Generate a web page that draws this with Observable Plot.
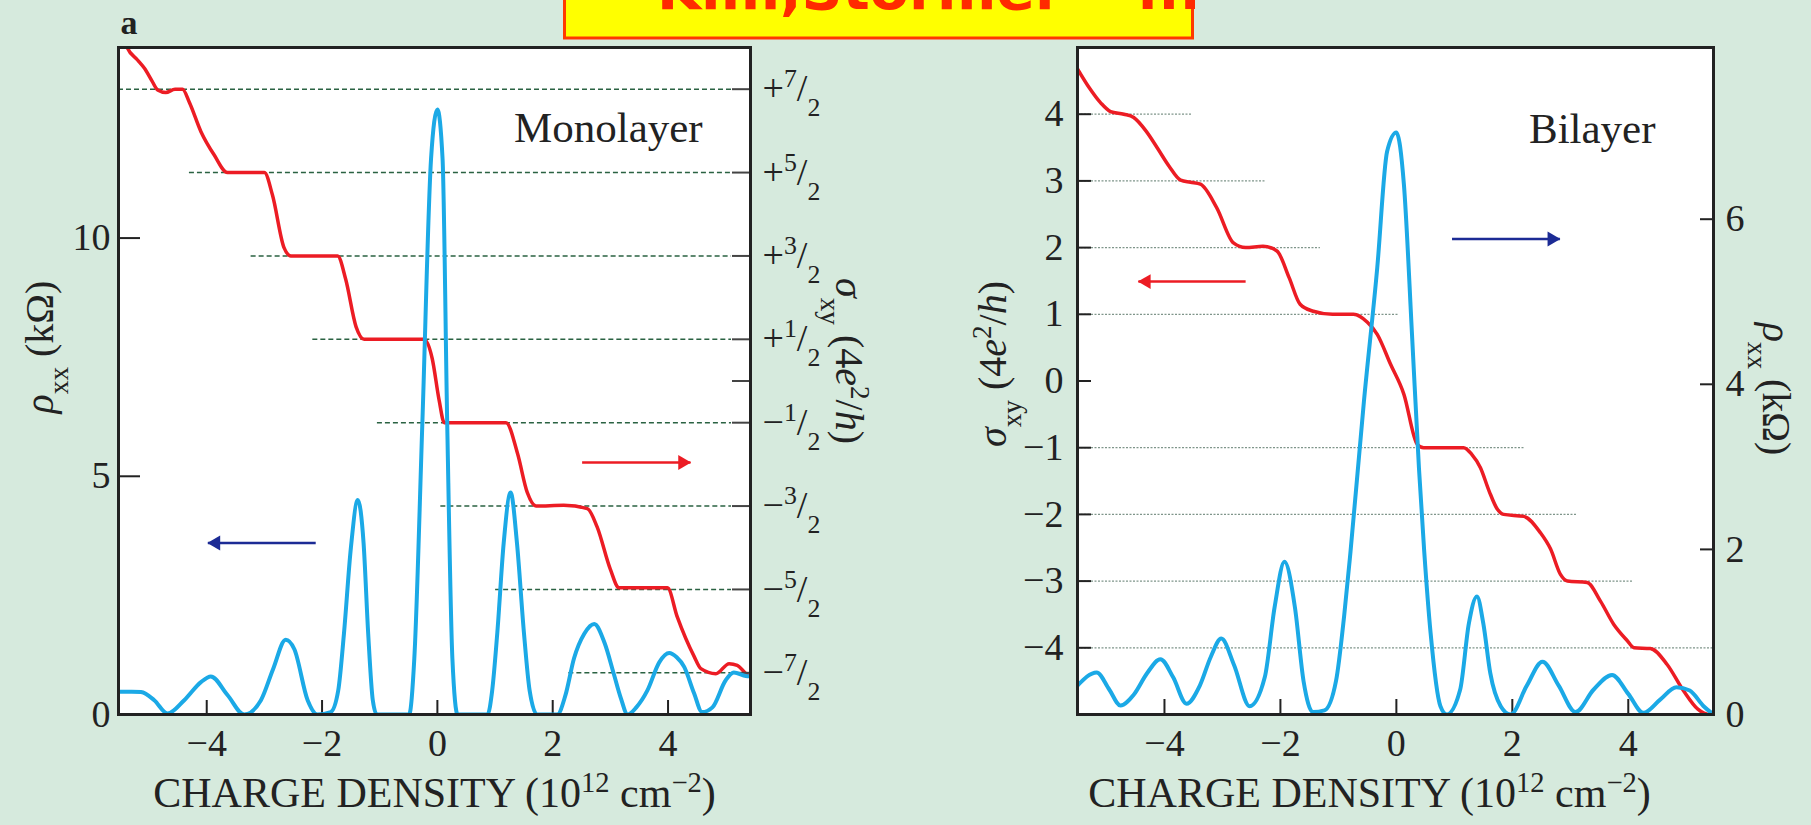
<!DOCTYPE html>
<html><head><meta charset="utf-8">
<script src="https://cdn.jsdelivr.net/npm/d3@7"></script>
<script src="https://cdn.jsdelivr.net/npm/@observablehq/plot@0.6"></script>
<style>
html,body{margin:0;padding:0;background:#d6eadd;}
#root{position:relative;width:1811px;height:825px;overflow:hidden;background:#d6eadd;}
#root .layer{position:absolute;top:0;}
#root svg{display:block;max-width:none;}
</style></head><body><div id="root"></div>
<script>
// ---------- DATA ----------
const xTicks = [-4, -2, 0, 2, 4];
const monoXDomain = [-5.53, 5.43];
const monoRhoDomain = [0, 14];
const monoSigmaDomain = [-4, 4];
const monoRhoTicks = [0, 5, 10];
const monoSigmaTicks = [-3.5, -2.5, -1.5, -0.5, 0, 0.5, 1.5, 2.5, 3.5];
const monoSigmaLabels = [-3.5, -2.5, -1.5, -0.5, 0.5, 1.5, 2.5, 3.5];

const biXDomain = [-5.5, 5.47];
const biSigmaDomain = [-5, 5];
const biRhoDomain = [0, 8.08];
const biSigmaTicks = [-4, -3, -2, -1, 0, 1, 2, 3, 4];
const biRhoTicks = [0, 2, 4, 6];

// monolayer rho_xx (kOhm) vs density
const monoRhoxx = [[-5.53,0.48],[-5.3,0.48],[-5.14,0.47],[-4.91,0.3],[-4.68,0.02],[-4.39,0.3],[-4.1,0.68],[-3.93,0.8],[-3.64,0.41],[-3.35,0.0],[-3.06,0.3],[-2.85,0.95],[-2.63,1.57],[-2.48,1.37],[-2.25,0.3],[-2.08,0.0],[-1.85,0.05],[-1.72,0.5],[-1.62,1.7],[-1.5,3.5],[-1.38,4.5],[-1.28,3.6],[-1.2,1.7],[-1.12,0.3],[-1.05,0.0],[-0.49,0.0],[-0.4,1.18],[-0.26,6.14],[-0.11,11.66],[0,12.7],[0.09,11.66],[0.17,6.14],[0.26,1.18],[0.35,0.0],[0.87,0.0],[0.95,0.5],[1.04,1.73],[1.15,3.6],[1.27,4.66],[1.38,3.6],[1.5,1.73],[1.6,0.5],[1.73,0.0],[2.08,0.0],[2.22,0.4],[2.37,1.18],[2.55,1.7],[2.72,1.9],[2.9,1.5],[3.06,0.85],[3.18,0.35],[3.3,0.0],[3.45,0.15],[3.64,0.5],[3.85,1.1],[4.02,1.29],[4.15,1.2],[4.28,1.0],[4.45,0.45],[4.59,0.05],[4.77,0.15],[5.0,0.72],[5.14,0.88],[5.35,0.81],[5.43,0.8]];
// monolayer sigma_xy (4e^2/h)
const monoSigmaxy = [[-5.5,4.25],[-5.38,4.0],[-5.2,3.85],[-5.08,3.75],[-4.95,3.6],[-4.85,3.49],[-4.71,3.46],[-4.55,3.5],[-4.42,3.5],[-4.3,3.34],[-4.1,2.99],[-3.87,2.71],[-3.64,2.5],[-3.0,2.5],[-2.86,2.23],[-2.66,1.6],[-2.54,1.5],[-1.73,1.5],[-1.59,1.22],[-1.41,0.65],[-1.27,0.5],[-0.23,0.5],[-0.09,0.27],[0.03,-0.23],[0.12,-0.5],[1.19,-0.5],[1.39,-0.87],[1.56,-1.34],[1.71,-1.5],[2.19,-1.49],[2.6,-1.53],[2.77,-1.75],[3.0,-2.26],[3.15,-2.48],[3.99,-2.48],[4.16,-2.83],[4.45,-3.3],[4.57,-3.45],[4.83,-3.51],[5.06,-3.39],[5.2,-3.41],[5.35,-3.51],[5.43,-3.55]];
// quantised plateau guides: [sigma, start density]
const monoPlateaus = [[3.5,-5.53],[2.5,-4.3],[1.5,-3.23],[0.5,-2.16],[-0.5,-1.04],[-1.5,0.06],[-2.5,1.01],[-3.5,2.28]];
const monoPlateauEnd = 5.1;

// bilayer rho_xx (kOhm)
const biRhoxx = [[-5.5,0.35],[-5.17,0.51],[-4.95,0.3],[-4.76,0.11],[-4.53,0.24],[-4.3,0.5],[-4.07,0.67],[-3.85,0.45],[-3.62,0.13],[-3.39,0.35],[-3.2,0.7],[-3.02,0.92],[-2.8,0.6],[-2.53,0.1],[-2.27,0.45],[-2.1,1.3],[-1.93,1.85],[-1.75,1.3],[-1.6,0.4],[-1.44,0.03],[-1.24,0.05],[-1.04,0.41],[-0.9,1.2],[-0.79,1.98],[-0.56,3.79],[-0.33,5.41],[-0.16,6.82],[0,7.05],[0.13,6.42],[0.27,4.6],[0.39,2.98],[0.48,1.98],[0.59,0.99],[0.76,0.1],[0.87,0.0],[1.1,0.3],[1.25,1.1],[1.39,1.43],[1.5,1.1],[1.62,0.5],[1.8,0.1],[1.97,0.0],[2.25,0.35],[2.52,0.64],[2.8,0.35],[3.09,0.03],[3.4,0.3],[3.72,0.48],[4.0,0.25],[4.26,0.02],[4.55,0.18],[4.83,0.33],[5.06,0.29],[5.3,0.1],[5.47,0.0]];
// bilayer sigma_xy (4e^2/h)
const biSigmaxy = [[-5.5,4.68],[-5.3,4.4],[-5.1,4.17],[-4.93,4.04],[-4.7,4.0],[-4.53,3.95],[-4.32,3.75],[-4.12,3.49],[-3.92,3.22],[-3.72,3.01],[-3.55,2.98],[-3.38,2.95],[-3.1,2.6],[-2.81,2.07],[-2.6,2.0],[-2.3,2.02],[-2.06,1.95],[-1.85,1.55],[-1.66,1.15],[-1.45,1.05],[-1.1,1.0],[-0.74,1.0],[-0.5,0.88],[-0.33,0.7],[-0.1,0.25],[0.13,-0.2],[0.36,-0.95],[0.47,-1.0],[1.16,-1.0],[1.3,-1.1],[1.45,-1.3],[1.6,-1.65],[1.74,-1.92],[1.85,-2.0],[2.2,-2.03],[2.48,-2.27],[2.66,-2.52],[2.83,-2.9],[2.95,-3.0],[3.29,-3.02],[3.52,-3.3],[3.75,-3.65],[3.98,-3.89],[4.1,-4.0],[4.38,-4.01],[4.67,-4.25],[4.95,-4.64],[5.2,-4.92],[5.41,-5.0],[5.47,-5.0]];
// guides: [sigma, end density]
const biPlateaus = [[4,-3.52],[3,-2.26],[2,-1.31],[1,0.03],[-1,2.22],[-2,3.12],[-3,4.09],[-4,5.47]];

// annotation arrows (data units of the plot they sit in)
const monoRhoArrow = [{x1: -2.11, x2: -3.98, y: 3.6}];
const monoRedArrow = [{x1: 2.51, x2: 4.39, y: 5.29}];
const biSigmaArrow = [{x1: -2.6, x2: -4.45, y: 1.49}];
const biRhoArrow = [{x1: 0.96, x2: 2.82, y: 5.76}];

const rhoTitle = "ρxx (kΩ)";
const sigmaTitle = "σxy (4e²/h)";
const xTitle = "CHARGE DENSITY (10¹² cm⁻²)";

// ---------- STYLE ----------
const FONT = "'Liberation Serif', 'Times New Roman', serif";
const RED = "#ec1c24", BLUE = "#1ba9e6", NAVY = "#1c2b95", INK = "#222";
const root = document.getElementById("root");
const baseStyle = {background: "transparent", fontFamily: FONT, fontSize: "38px", color: INK, overflow: "visible"};

const L = {width: 900, height: 825, marginLeft: 118, marginRight: 150, marginTop: 47, marginBottom: 111};
const LW = L.width - L.marginLeft - L.marginRight, LH = L.height - L.marginTop - L.marginBottom;
const R = {width: 911, height: 825, marginLeft: 177, marginRight: 98, marginTop: 47, marginBottom: 111};
const RW = R.width - R.marginLeft - R.marginRight, RH = R.height - R.marginTop - R.marginBottom;

const SUP = s => `<tspan baseline-shift="super" font-size="68%">${s}</tspan>`;
const SUB = s => `<tspan baseline-shift="sub" font-size="68%">${s}</tspan>`;
const RICH = {
  [rhoTitle]: `<tspan font-style="italic">ρ</tspan>${SUB("xx")}<tspan> (kΩ)</tspan>`,
  [sigmaTitle]: `<tspan font-style="italic">σ</tspan>${SUB("xy")}<tspan> (4</tspan><tspan font-style="italic">e</tspan>${SUP("2")}<tspan>/</tspan><tspan font-style="italic">h</tspan><tspan>)</tspan>`,
  [xTitle]: `CHARGE DENSITY (10${SUP("12")}<tspan> cm</tspan>${SUP("−2")}<tspan>)</tspan>`
};
function enrich(svg) {
  svg.querySelectorAll("text").forEach(t => {
    const s = t.textContent; let m;
    if (RICH[s]) t.innerHTML = RICH[s];
    else if ((m = /^([+−])(\d)\/2$/.exec(s))) t.innerHTML = `${m[1]}${SUP(m[2])}<tspan>/</tspan>${SUB("2")}`;
  });
  return svg;
}
function layer(svg, left, w) {
  const d = document.createElement("div");
  d.className = "layer"; d.style.left = left + "px"; d.style.width = w + "px";
  d.appendChild(enrich(svg)); root.appendChild(d);
}
function arrow(data, color) {
  const right = data[0].x2 > data[0].x1;
  return [
    Plot.link(data, {x1: "x1", x2: "x2", y1: "y", y2: "y", stroke: color, strokeWidth: 2.5}),
    Plot.dot(data, {x: "x2", y: "y", symbol: "triangle", r: 5.5, fill: color, stroke: null,
      rotate: right ? 90 : -90, dx: right ? -8 : 8})
  ];
}
const intFmt = d => (d < 0 ? "−" : "") + Math.abs(d);
const halfFmt = d => (d > 0 ? "+" : "−") + Math.round(Math.abs(d * 2)) + "/2";
const yTitleOpts = {fontSize: 40, fontFamily: FONT, fill: INK, textAnchor: "middle", lineAnchor: "middle"};
const xTitleOpts = {fontSize: 42, fontFamily: FONT, fill: INK, textAnchor: "middle", lineAnchor: "middle"};

// ---------- MONOLAYER ----------
// bottom layer: sigma_xy (right axis)
layer(Plot.plot({
  ...L, style: baseStyle,
  x: {domain: monoXDomain, axis: null}, y: {domain: monoSigmaDomain, axis: null},
  marks: [
    Plot.frame({fill: "white", stroke: null}),
    Plot.ruleY(monoPlateaus, {y: d => d[0], x1: d => d[1], x2: monoPlateauEnd, stroke: "#2a6242", strokeWidth: 1.5, strokeDasharray: "5,3"}),
    Plot.line(monoSigmaxy, {x: d => d[0], y: d => d[1], stroke: RED, strokeWidth: 3.5, curve: "monotone-x", clip: true}),
    Plot.tickY(monoSigmaTicks, {y: d => d, insetLeft: LW - 18, stroke: "#444", strokeWidth: 2}),
    Plot.tickX(xTicks, {x: d => d, insetTop: LH - 14, stroke: INK, strokeWidth: 2}),
    Plot.axisY(monoSigmaLabels, {anchor: "right", tickSize: 0, tickPadding: 12, fontSize: 38, tickFormat: halfFmt, label: null}),
    Plot.axisX(xTicks, {anchor: "bottom", tickSize: 0, tickPadding: 15, fontSize: 38, tickFormat: intFmt, label: null}),
    Plot.text([sigmaTitle], {frameAnchor: "right", dx: 98, dy: -20, rotate: 90, ...yTitleOpts}),
    Plot.text([xTitle], {frameAnchor: "bottom", dy: 79, ...xTitleOpts}),
    Plot.text(["Monolayer"], {x: 4.6, y: 2.87, textAnchor: "end", lineAnchor: "bottom", fontSize: 43, fontFamily: FONT, fill: INK})
  ]
}), 0, L.width);
// top layer: rho_xx (left axis)
layer(Plot.plot({
  ...L, style: baseStyle,
  x: {domain: monoXDomain, axis: null}, y: {domain: monoRhoDomain, axis: null},
  marks: [
    Plot.line(monoRhoxx, {x: d => d[0], y: d => d[1], stroke: BLUE, strokeWidth: 4, curve: "monotone-x", clip: true}),
    Plot.tickY(monoRhoTicks, {y: d => d, insetRight: LW - 22, stroke: INK, strokeWidth: 2}),
    Plot.axisY(monoRhoTicks, {anchor: "left", tickSize: 0, tickPadding: 8, fontSize: 38, tickFormat: intFmt, label: null}),
    Plot.text([rhoTitle], {frameAnchor: "left", dx: -78, dy: -34, rotate: -90, ...yTitleOpts}),
    Plot.text(["a"], {frameAnchor: "top-left", textAnchor: "start", lineAnchor: "bottom", dx: 2, dy: -14, fontSize: 34, fontWeight: "bold", fontFamily: FONT, fill: INK}),
    ...arrow(monoRhoArrow, NAVY),
    ...arrow(monoRedArrow, RED),
    Plot.frame({stroke: INK, strokeWidth: 3})
  ]
}), 0, L.width);

// ---------- BILAYER ----------
// bottom layer: sigma_xy (left axis)
layer(Plot.plot({
  ...R, style: baseStyle,
  x: {domain: biXDomain, axis: null}, y: {domain: biSigmaDomain, axis: null},
  marks: [
    Plot.frame({fill: "white", stroke: null}),
    Plot.ruleY(biPlateaus, {y: d => d[0], x1: biXDomain[0], x2: d => d[1], stroke: "#7f958a", strokeWidth: 1.3, strokeDasharray: "2,1.5"}),
    Plot.line(biSigmaxy, {x: d => d[0], y: d => d[1], stroke: RED, strokeWidth: 3.5, curve: "monotone-x", clip: true}),
    Plot.tickY(biSigmaTicks, {y: d => d, insetRight: RW - 14, stroke: INK, strokeWidth: 2}),
    Plot.tickX(xTicks, {x: d => d, insetTop: RH - 15, stroke: INK, strokeWidth: 2}),
    Plot.axisY(biSigmaTicks, {anchor: "left", tickSize: 0, tickPadding: 14, fontSize: 38, tickFormat: intFmt, label: null}),
    Plot.axisX(xTicks, {anchor: "bottom", tickSize: 0, tickPadding: 15, fontSize: 38, tickFormat: intFmt, label: null}),
    Plot.text([sigmaTitle], {frameAnchor: "left", dx: -84, dy: -17, rotate: -90, ...yTitleOpts}),
    Plot.text([xTitle], {frameAnchor: "bottom", dx: -26, dy: 79, ...xTitleOpts}),
    Plot.text(["Bilayer"], {x: 4.47, y: 3.57, textAnchor: "end", lineAnchor: "bottom", fontSize: 43, fontFamily: FONT, fill: INK}),
    ...arrow(biSigmaArrow, RED)
  ]
}), 900, R.width);
// top layer: rho_xx (right axis)
layer(Plot.plot({
  ...R, style: baseStyle,
  x: {domain: biXDomain, axis: null}, y: {domain: biRhoDomain, axis: null},
  marks: [
    Plot.line(biRhoxx, {x: d => d[0], y: d => d[1], stroke: BLUE, strokeWidth: 4, curve: "monotone-x", clip: true}),
    Plot.tickY(biRhoTicks, {y: d => d, insetLeft: RW - 13, stroke: INK, strokeWidth: 2}),
    Plot.axisY(biRhoTicks, {anchor: "right", tickSize: 0, tickPadding: 12, fontSize: 38, tickFormat: intFmt, label: null}),
    Plot.text([rhoTitle], {frameAnchor: "right", dx: 62, dy: 8, rotate: 90, ...yTitleOpts}),
    ...arrow(biRhoArrow, NAVY),
    Plot.frame({stroke: INK, strokeWidth: 3})
  ]
}), 900, R.width);

// ---------- banner (clipped at top of page) ----------
const NS = "http://www.w3.org/2000/svg";
const banner = document.createElementNS(NS, "svg");
banner.setAttribute("width", 632); banner.setAttribute("height", 42);
banner.style.position = "absolute"; banner.style.left = "563px"; banner.style.top = "0px";
banner.innerHTML = `<rect x="1.5" y="-10" width="628" height="48" fill="#ffff00" stroke="#ff3a00" stroke-width="3"/>
<text x="94" y="9" font-family="'DejaVu Sans', sans-serif" font-weight="bold" font-size="56" fill="#ff2a00" textLength="406" lengthAdjust="spacingAndGlyphs">Kim,Stormer</text>
<text x="574" y="9" font-family="'DejaVu Sans', sans-serif" font-weight="bold" font-size="56" fill="#ff2a00">...</text>`;
root.appendChild(banner);
</script></body></html>
